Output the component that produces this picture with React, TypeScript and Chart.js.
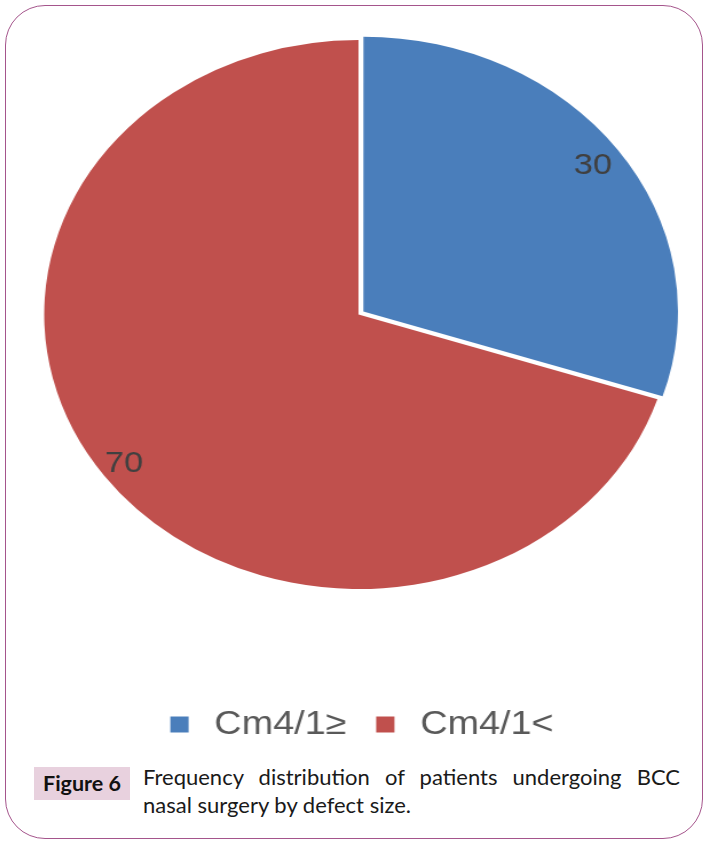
import React, { useEffect, useRef } from "react";
import { Chart, registerables } from "chart.js";

Chart.register(...registerables);

// ---- data ----
const categories: string[] = ["Cm4/1≥", "Cm4/1<"];
const values: number[] = [30, 70];
const sliceColors: string[] = ["#4A7EBB", "#C0504D"];
const sliceOffsets: number[] = [21, 0];
const captionTitle = "Figure 6";
const captionLine1 = "Frequency distribution of patients undergoing BCC";
const captionLine2 = "nasal surgery by defect size.";

// ---- layout ----
const STRETCH = 1.146;
const CW = 600;
const CH = 833;
const PIE_CENTER_X = 358.5;
const CANVAS_TOP = -82.5;

const sliceLabelPlugin = {
  id: "sliceLabels",
  afterDatasetsDraw(chart: any) {
    const ctx = chart.ctx;
    const meta = chart.getDatasetMeta(0);
    const ds = chart.data.datasets[0];
    ctx.save();
    ctx.font = "30px 'Liberation Sans', Arial, sans-serif";
    ctx.fillStyle = "#404040";
    ctx.textAlign = "center";
    ctx.textBaseline = "middle";
    meta.data.forEach((arc: any, i: number) => {
      const p = arc.getProps(["x", "y", "startAngle", "endAngle", "outerRadius"], true);
      const mid = (p.startAngle + p.endAngle) / 2;
      const r = p.outerRadius * 0.922;
      ctx.fillText(String(ds.data[i]), p.x + Math.cos(mid) * r, p.y + Math.sin(mid) * r);
    });
    ctx.restore();
  },
};

function PieChart() {
  const ref = useRef<HTMLCanvasElement | null>(null);
  useEffect(() => {
    if (!ref.current) return;
    const chart = new Chart(ref.current, {
      type: "pie",
      data: {
        labels: categories,
        datasets: [
          {
            data: values,
            backgroundColor: sliceColors,
            borderWidth: 0,
            offset: sliceOffsets,
            hoverOffset: 0,
            radius: 274.5,
          } as any,
        ],
      },
      options: {
        responsive: false,
        animation: false,
        devicePixelRatio: 1,
        events: [],
        layout: { padding: { top: 23, left: 0, right: 0, bottom: 0 } },
        plugins: {
          legend: {
            display: true,
            position: "bottom",
            labels: {
              usePointStyle: true,
              pointStyle: "rect",
              boxWidth: 28,
              boxHeight: 16,
              padding: 20,
              color: "#595959",
              font: { family: "'Liberation Sans', Arial, sans-serif", size: 33 },
            },
          },
          tooltip: { enabled: false },
        },
      } as any,
      plugins: [sliceLabelPlugin],
    });
    return () => chart.destroy();
  }, []);
  return (
    <canvas
      ref={ref}
      width={CW}
      height={CH}
      style={{
        position: "absolute",
        left: PIE_CENTER_X - (CW * STRETCH) / 2,
        top: CANVAS_TOP,
        width: CW * STRETCH,
        height: CH,
      }}
    />
  );
}

export default function App() {
  return (
    <div
      style={{
        position: "absolute",
        left: 0,
        top: 0,
        width: 705,
        height: 841,
        overflow: "hidden",
        background: "#fff",
      }}
    >
      <div
        style={{
          position: "absolute",
          left: 5,
          top: 5,
          width: 698,
          height: 834,
          boxSizing: "border-box",
          border: "1.5px solid #A5558C",
          borderRadius: 40,
        }}
      />
      <PieChart />
      <div
        style={{
          position: "absolute",
          left: 34,
          top: 767,
          width: 96,
          height: 33,
          background: "#E8D1DE",
          color: "#111",
          fontFamily: "Lato, 'Open Sans', sans-serif",
          fontWeight: 700,
          fontSize: 21.5,
          lineHeight: "33px",
          textAlign: "center",
        }}
      >
        {captionTitle}
      </div>
      <div
        style={{
          position: "absolute",
          left: 143,
          top: 763,
          width: 537,
          color: "#1a1a1a",
          fontFamily: "Lato, 'Open Sans', sans-serif",
          fontSize: 22,
          lineHeight: "28px",
        }}
      >
        <div style={{ textAlign: "justify", textAlignLast: "justify" as any }}>{captionLine1}</div>
        <div>{captionLine2}</div>
      </div>
    </div>
  );
}
